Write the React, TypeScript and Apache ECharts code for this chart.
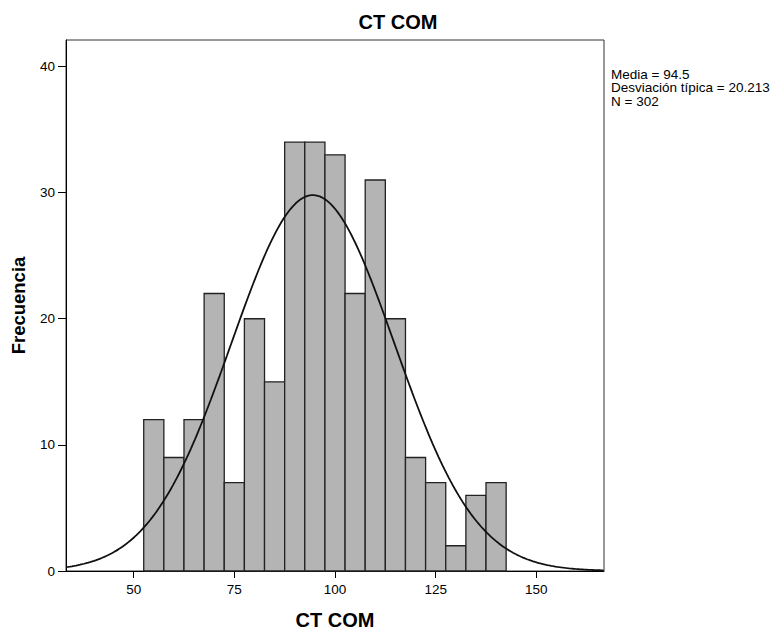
import React, { useEffect, useRef } from "react";
import * as echarts from "echarts";

// Histogram bins (lower edges) and counts
const binStarts = [52.5, 57.5, 62.5, 67.5, 72.5, 77.5, 82.5, 87.5, 92.5, 97.5, 102.5, 107.5, 112.5, 117.5, 122.5, 127.5, 132.5, 137.5];
const binWidth = 5;
const frequencies = [12, 9, 12, 22, 7, 20, 15, 34, 34, 33, 22, 31, 20, 9, 7, 2, 6, 7];

// Summary statistics printed on the chart
const mean = 94.5;
const stdDev = 20.213;
const count = 302;

// Axis ticks
const xTicks = [50, 75, 100, 125, 150];
const yTicks = [0, 10, 20, 30, 40];
const xMin = 33.2;
const xMax = 166.8;
const yMax = 42.1;

const statsLines = [
  "Media = " + mean,
  "Desviación típica = " + stdDev,
  "N = " + count,
];

const FONT = "'Liberation Sans', Arial, sans-serif";

// Fitted normal curve (scaled to counts) over the axis range
const curveX: number[] = [];
for (let x = xMin; x <= xMax + 1e-9; x += 0.5) curveX.push(x);
const curveData = curveX.map((x) => {
  const z = (x - mean) / stdDev;
  return [x, (count * binWidth * Math.exp(-0.5 * z * z)) / (stdDev * Math.sqrt(2 * Math.PI))];
});

const histData = binStarts.map((s, i) => [s, s + binWidth, frequencies[i]]);

export default function App() {
  const ref = useRef<HTMLDivElement>(null);
  useEffect(() => {
    if (!ref.current) return;
    const chart = echarts.init(ref.current, null, { renderer: "svg" });
    chart.setOption({
      animation: false,
      backgroundColor: "#ffffff",
      grid: {
        left: 66,
        top: 40,
        right: 176,
        bottom: 59,
        containLabel: false,
        outerBoundsMode: "none",
        show: true,
        borderColor: "#333333",
        borderWidth: 1,
        backgroundColor: "transparent",
      },
      xAxis: {
        type: "value",
        min: xMin,
        max: xMax,
        name: "CT COM",
        nameLocation: "middle",
        nameGap: 39,
        nameTextStyle: { fontFamily: FONT, fontSize: 20, fontWeight: "bold", color: "#000" },
        axisLine: { show: true, onZero: false, lineStyle: { color: "#000", width: 1 } },
        axisTick: { show: true, length: 7, customValues: xTicks, lineStyle: { color: "#000" } },
        axisLabel: { customValues: xTicks, fontFamily: FONT, fontSize: 13.5, color: "#000", margin: 11 },
        splitLine: { show: false },
      },
      yAxis: {
        type: "value",
        min: 0,
        max: yMax,
        name: "Frecuencia",
        nameLocation: "middle",
        nameGap: 38,
        nameTextStyle: { fontFamily: FONT, fontSize: 18.5, fontWeight: "bold", color: "#000" },
        axisLine: { show: true, lineStyle: { color: "#000", width: 1 } },
        axisTick: { show: true, length: 8, customValues: yTicks, lineStyle: { color: "#000" } },
        axisLabel: { customValues: yTicks, fontFamily: FONT, fontSize: 13.5, color: "#000", margin: 11 },
        splitLine: { show: false },
      },
      graphic: [
        {
          type: "text",
          x: 398,
          y: 12,
          style: {
            text: "CT COM",
            font: "bold 20px " + FONT,
            fill: "#000",
            align: "center",
            verticalAlign: "top",
          },
        },
        {
          type: "text",
          x: 611,
          y: 67.5,
          style: {
            text: statsLines.join("\n"),
            font: "13.5px " + FONT,
            lineHeight: 13.5,
            fill: "#000",
            align: "left",
            verticalAlign: "top",
          },
        },
      ],
      series: [
        {
          type: "custom",
          name: "Frecuencia",
          data: histData,
          encode: { x: [0, 1], y: 2 },
          renderItem: (params: any, api: any) => {
            const x0 = api.value(0);
            const x1 = api.value(1);
            const y = api.value(2);
            const p0 = api.coord([x0, y]);
            const p1 = api.coord([x1, 0]);
            return {
              type: "rect",
              shape: { x: p0[0], y: p0[1], width: p1[0] - p0[0], height: p1[1] - p0[1] },
              style: { fill: "#b4b4b4", stroke: "#222222", lineWidth: 1.3 },
            };
          },
          z: 2,
        },
        {
          type: "line",
          name: "Normal",
          data: curveData,
          showSymbol: false,
          symbol: "none",
          smooth: false,
          lineStyle: { color: "#111", width: 1.8 },
          z: 3,
        },
      ],
    });
    return () => chart.dispose();
  }, []);
  return <div ref={ref} style={{ width: 780, height: 630, position: "absolute", left: 0, top: 0 }} />;
}
